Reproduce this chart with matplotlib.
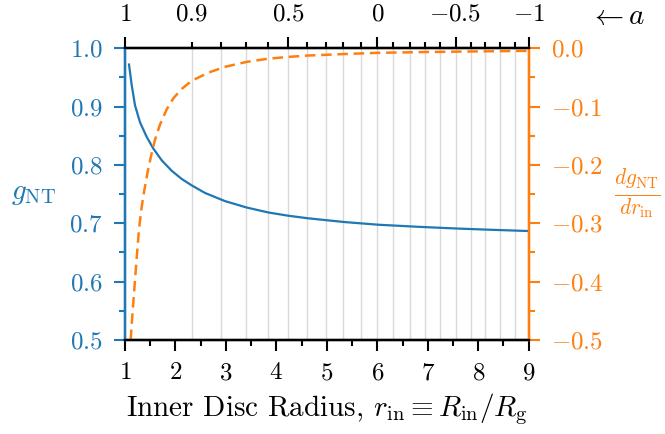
import numpy as np
import matplotlib
matplotlib.use("Agg")
import matplotlib.pyplot as plt

# values
r_g = [1.079, 1.132, 1.198, 1.297, 1.429, 1.561, 1.726, 1.924, 2.122, 2.32, 2.584, 2.98,
       3.41, 3.84, 4.23, 4.63, 5.36, 6.02, 6.8, 7.57, 8.3, 9.0]
g_nt = [0.972, 0.937, 0.902, 0.873, 0.848, 0.828, 0.808, 0.790, 0.776, 0.765, 0.752, 0.738,
        0.727, 0.7185, 0.713, 0.7085, 0.702, 0.6975, 0.694, 0.691, 0.6887, 0.6867]

r_d = [1.112, 1.145, 1.185, 1.231, 1.277, 1.33, 1.383, 1.449, 1.515, 1.594, 1.693, 1.825,
       1.957, 2.12, 2.32, 2.65, 2.98, 3.41, 3.84, 4.23, 4.63, 5.36, 6.0, 7.0, 8.0, 9.0]
dg_dr = [-0.500, -0.458, -0.412, -0.360, -0.310, -0.272, -0.243, -0.212, -0.185, -0.157,
         -0.131, -0.105, -0.086, -0.070, -0.056, -0.042, -0.032, -0.0235, -0.018, -0.015,
         -0.0126, -0.010, -0.008, -0.0065, -0.0055, -0.0046]

# ISCO radius for spin a = 1, 0.9, ..., -1
spin = [1, 0.9, 0.8, 0.7, 0.6, 0.5, 0.4, 0.3, 0.2, 0.1, 0, -0.1, -0.2, -0.3, -0.4,
        -0.5, -0.6, -0.7, -0.8, -0.9, -1]
r_isco = [1.0, 2.32, 2.91, 3.39, 3.83, 4.23, 4.61, 4.98, 5.33, 5.67, 6.0, 6.32, 6.64,
          6.95, 7.25, 7.55, 7.85, 8.14, 8.43, 8.72, 9.0]
major_spin = [1, 0.5, 0, -0.5, -1]
major_labels = [r'$1$', r'$0.5$', r'$0$', r'$-0.5$', r'$-1$']

plt.rcParams['mathtext.fontset'] = 'cm'
plt.rcParams['font.family'] = 'serif'
plt.rcParams['font.serif'] = ['cmr10', 'DejaVu Serif']
plt.rcParams['axes.unicode_minus'] = False

blue = '#1f77b4'
orange = '#ff7f0e'
fs = 18
maj_len, min_len, pad = 8, 4.5, 8

fig = plt.figure(figsize=(6.65, 4.34), dpi=100)
ax = fig.add_axes([0.188, 0.2166, 0.607, 0.6724])
ax2 = ax.twinx()
ax3 = ax.twiny()

for r in r_isco[1:-1]:
    ax.axvline(r, color='#d9d9d9', lw=1.0, zorder=0)

ax.plot(r_g, g_nt, color=blue, lw=1.6, zorder=3)
ax2.plot(r_d, dg_dr, color=orange, lw=1.8, ls=(0, (4.2, 2.3)))

ax.set_xlim(1, 9)
ax.set_ylim(0.5, 1.0)
ax2.set_ylim(-0.5, 0.0)
ax3.set_xlim(1, 9)

ax.set_xticks(range(1, 10))
ax.set_xticklabels([r'$%d$' % i for i in range(1, 10)])
ax.set_xticks(np.arange(1.5, 9, 1.0), minor=True)
yt = np.arange(0.5, 1.01, 0.1)
ax.set_yticks(yt)
ax.set_yticklabels([r'$%.1f$' % v for v in yt])
ax.set_yticks(np.arange(0.55, 1.0, 0.1), minor=True)
yt2 = np.arange(-0.5, 0.01, 0.1)
ax2.set_yticks(yt2)
ax2.set_yticklabels([r'$0.0$' if abs(v) < 1e-9 else r'$-%.1f$' % abs(v) for v in yt2])
ax2.set_yticks(np.arange(-0.45, 0.0, 0.1), minor=True)

ax3.set_xticks([r_isco[spin.index(s)] for s in major_spin])
ax3.set_xticklabels(major_labels)
minor_r = [r for s, r in zip(spin, r_isco) if s not in major_spin]
ax3.set_xticks(minor_r, minor=True)
ax3.set_xticklabels([r'$0.9$'] + [''] * (len(minor_r) - 1), minor=True)

for a in (ax, ax2, ax3):
    for sp in a.spines.values():
        sp.set_linewidth(1.6)
    a.tick_params(which='major', length=maj_len, width=1.5, labelsize=fs, pad=pad)
    a.tick_params(which='minor', length=min_len, width=1.5, labelsize=fs,
                  pad=pad + maj_len - min_len)

for a in (ax, ax2, ax3):
    a.spines['left'].set_color(blue)
    a.spines['right'].set_color(orange)
ax.tick_params(axis='y', which='both', colors=blue)
ax2.tick_params(axis='y', which='both', colors=orange)

ax.set_xlabel(r'Inner Disc Radius, $r_{\rm in} \equiv R_{\rm in}/R_{\rm g}$', fontsize=21, labelpad=5)
ax.set_ylabel(r'$g_{\rm NT}$', fontsize=21, color=blue, rotation=0, labelpad=26, va='center')
ax2.set_ylabel(r'$\frac{dg_{\rm NT}}{dr_{\rm in}}$', fontsize=22, color=orange,
               rotation=0, labelpad=24, va='center')
fig.text(0.885, 0.962, r'$\leftarrow a$', fontsize=21, ha='left', va='center')

fig.savefig('out.png', dpi=100)
